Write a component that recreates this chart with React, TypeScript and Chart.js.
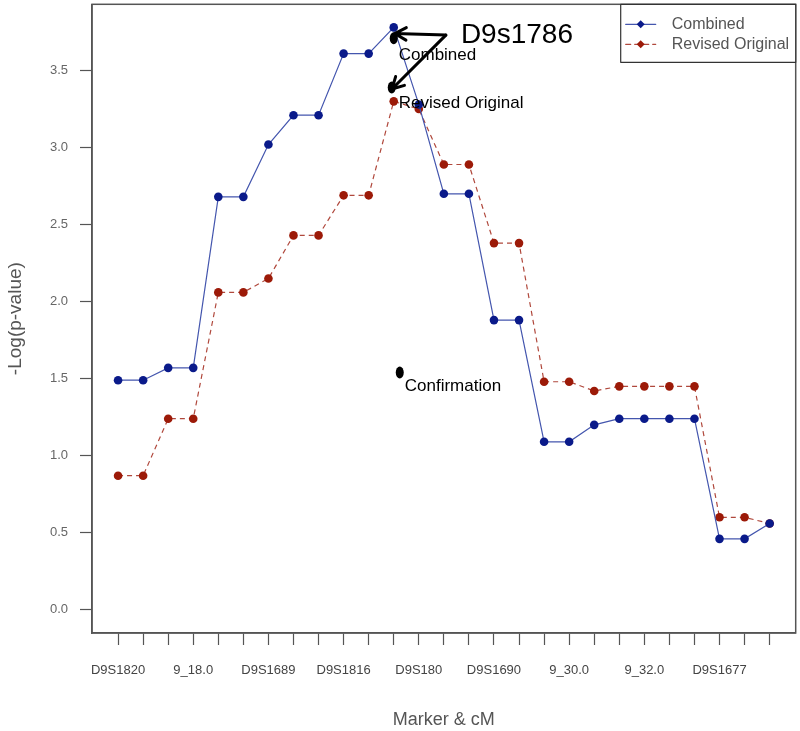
import React, { useEffect, useRef } from "react";
import { Chart, registerables } from "chart.js";

Chart.register(...registerables);

const markerLabels = [
  "D9S1820", "", "", "9_18.0", "", "", "D9S1689", "", "", "D9S1816", "", "",
  "D9S180", "", "", "D9S1690", "", "", "9_30.0", "", "", "9_32.0", "", "",
  "D9S1677", "", "",
];
const combinedValues = [
  1.49, 1.49, 1.57, 1.57, 2.68, 2.68, 3.02, 3.21, 3.21, 3.61, 3.61, 3.78,
  3.28, 2.7, 2.7, 1.88, 1.88, 1.09, 1.09, 1.2, 1.24, 1.24, 1.24, 1.24,
  0.46, 0.46, 0.56,
];
const revisedValues = [
  0.87, 0.87, 1.24, 1.24, 2.06, 2.06, 2.15, 2.43, 2.43, 2.69, 2.69, 3.3,
  3.25, 2.89, 2.89, 2.38, 2.38, 1.48, 1.48, 1.42, 1.45, 1.45, 1.45, 1.45,
  0.6, 0.6, 0.56,
];
const yTickValues = [0, 0.5, 1, 1.5, 2, 2.5, 3, 3.5];
const seriesNames = ["Combined", "Revised Original"];

const BLUE_PT = "#0a1a8a";
const BLUE_LN = "#4456ae";
const RED_PT = "#9c1a08";
const RED_LN = "#b0483c";
const AXIS = "#555555";
const SANS = "'Liberation Sans', Arial, sans-serif";

function arrow(ctx: CanvasRenderingContext2D, x1: number, y1: number, x2: number, y2: number) {
  const ang = Math.atan2(y2 - y1, x2 - x1);
  const len = 13;
  ctx.beginPath();
  ctx.moveTo(x1, y1);
  ctx.lineTo(x2, y2);
  ctx.moveTo(x2 - len * Math.cos(ang - 0.5), y2 - len * Math.sin(ang - 0.5));
  ctx.lineTo(x2, y2);
  ctx.lineTo(x2 - len * Math.cos(ang + 0.5), y2 - len * Math.sin(ang + 0.5));
  ctx.stroke();
}

const decorPlugin = {
  id: "decor",
  afterDatasetsDraw(chart: any) {
    const { ctx, chartArea, scales } = chart;
    const xs = scales.x;
    const ys = scales.y;
    const px = (v: number) => xs.getPixelForValue(v);
    const py = (v: number) => ys.getPixelForValue(v);
    ctx.save();
    // frame
    ctx.strokeStyle = AXIS;
    ctx.lineWidth = 1.5;
    ctx.strokeRect(chartArea.left, chartArea.top, chartArea.right - chartArea.left, chartArea.bottom - chartArea.top);

    // annotations
    ctx.fillStyle = "#000";
    const blob = (x: number, y: number) => {
      ctx.beginPath();
      ctx.ellipse(px(x), py(y), 4, 6, 0, 0, Math.PI * 2);
      ctx.fill();
    };
    blob(11, 3.71);
    blob(10.92, 3.39);
    blob(11.24, 1.54);
    ctx.strokeStyle = "#000";
    ctx.lineWidth = 3;
    ctx.lineCap = "round";
    ctx.lineJoin = "round";
    arrow(ctx, px(13.08), py(3.73), px(11.04), py(3.74));
    arrow(ctx, px(13.08), py(3.73), px(10.93), py(3.38));
    ctx.textBaseline = "middle";
    ctx.textAlign = "left";
    ctx.font = `28px ${SANS}`;
    ctx.fillText("D9s1786", px(13.68), py(3.73));
    ctx.font = `17px ${SANS}`;
    ctx.fillText("Combined", px(11.2), py(3.6));
    ctx.fillText("Revised Original", px(11.2), py(3.29));
    ctx.fillText("Confirmation", px(11.44), py(1.45));

    // legend
    const lx = chartArea.right - 175;
    const ly = chartArea.top;
    ctx.strokeStyle = "#333";
    ctx.lineWidth = 1.2;
    ctx.fillStyle = "#fff";
    ctx.fillRect(lx, ly, chartArea.right - lx, 58);
    ctx.strokeRect(lx, ly, chartArea.right - lx, 58);
    const rows = [
      { name: seriesNames[0], ln: BLUE_LN, pt: BLUE_PT, dash: [] as number[], y: ly + 20 },
      { name: seriesNames[1], ln: RED_LN, pt: RED_PT, dash: [5, 4], y: ly + 40 },
    ];
    rows.forEach((r) => {
      ctx.strokeStyle = r.ln;
      ctx.lineWidth = 1.3;
      ctx.setLineDash(r.dash);
      ctx.beginPath();
      ctx.moveTo(lx + 5, r.y);
      ctx.lineTo(lx + 35, r.y);
      ctx.stroke();
      ctx.setLineDash([]);
      ctx.fillStyle = r.pt;
      ctx.beginPath();
      ctx.moveTo(lx + 20, r.y - 4);
      ctx.lineTo(lx + 24, r.y);
      ctx.lineTo(lx + 20, r.y + 4);
      ctx.lineTo(lx + 16, r.y);
      ctx.closePath();
      ctx.fill();
      ctx.fillStyle = "#555";
      ctx.font = `16px ${SANS}`;
      ctx.textAlign = "left";
      ctx.textBaseline = "middle";
      ctx.fillText(r.name, lx + 51, r.y);
    });
    ctx.restore();
  },
};

export default function App() {
  const ref = useRef<HTMLCanvasElement | null>(null);
  useEffect(() => {
    if (!ref.current) return;
    const chart = new Chart(ref.current, {
      type: "line",
      data: {
        datasets: [
          {
            label: seriesNames[0],
            data: combinedValues.map((v, i) => ({ x: i, y: v })),
            borderColor: BLUE_LN,
            borderWidth: 1.2,
            pointBackgroundColor: BLUE_PT,
            pointBorderColor: BLUE_PT,
            pointRadius: 4.3,
            pointBorderWidth: 0,
            tension: 0,
          },
          {
            label: seriesNames[1],
            data: revisedValues.map((v, i) => ({ x: i, y: v })),
            borderColor: RED_LN,
            borderWidth: 1.2,
            borderDash: [5, 4],
            pointBackgroundColor: RED_PT,
            pointBorderColor: RED_PT,
            pointRadius: 4.3,
            pointBorderWidth: 0,
            tension: 0,
          },
        ],
      },
      options: {
        animation: false,
        responsive: true,
        maintainAspectRatio: false,
        layout: { padding: { top: 2, right: 3, left: 0, bottom: 0 } },
        plugins: { legend: { display: false }, tooltip: { enabled: false } },
        scales: {
          x: {
            type: "linear",
            min: -1.04,
            max: 27.04,
            afterBuildTicks: (s: any) => {
              s.ticks = markerLabels.map((_, i) => ({ value: i }));
            },
            afterFit: (s: any) => {
              s.height = 98;
              s.paddingLeft = 0;
              s.paddingRight = 0;
            },
            grid: { drawOnChartArea: false, drawTicks: true, tickLength: 12, color: AXIS, tickWidth: 1.2 },
            border: { display: true, color: AXIS, width: 1.5 },
            ticks: {
              autoSkip: false,
              maxRotation: 0,
              minRotation: 0,
              padding: 18,
              color: "#444",
              font: { family: SANS, size: 13 },
              callback: (v: any) => markerLabels[Math.round(Number(v))] ?? "",
            },
            title: {
              display: true,
              text: "Marker & cM",
              color: "#555",
              font: { family: SANS, size: 18 },
              padding: { top: 0, bottom: 0 },
            },
          },
          y: {
            type: "linear",
            min: -0.151,
            max: 3.93,
            afterBuildTicks: (s: any) => {
              s.ticks = yTickValues.map((v) => ({ value: v }));
            },
            afterFit: (s: any) => {
              s.width = 92;
              s.paddingTop = 0;
              s.paddingBottom = 0;
            },
            grid: { drawOnChartArea: false, drawTicks: true, tickLength: 12, color: AXIS, tickWidth: 1.2 },
            border: { display: true, color: AXIS, width: 1.5 },
            ticks: {
              padding: 12,
              color: "#666",
              font: { family: SANS, size: 13 },
              callback: (v: any) => Number(v).toFixed(1),
            },
            title: {
              display: true,
              text: "-Log(p-value)",
              color: "#555",
              font: { family: SANS, size: 19 },
              padding: { top: 4, bottom: 0 },
            },
          },
        },
      },
      plugins: [decorPlugin],
    });
    return () => chart.destroy();
  }, []);
  return (
    <div style={{ position: "fixed", left: 0, top: 0, width: 800, height: 731, background: "#fff" }}>
      <canvas ref={ref} />
    </div>
  );
}
